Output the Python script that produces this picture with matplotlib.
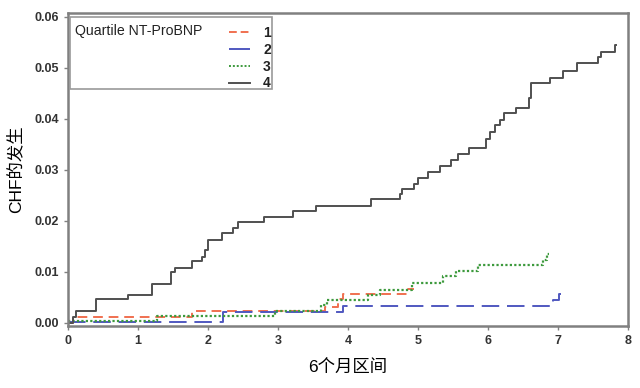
import matplotlib.pyplot as plt
from matplotlib.lines import Line2D
from matplotlib.patches import Rectangle

plt.rcParams['font.family'] = ['Liberation Sans', 'Noto Sans CJK SC', 'DejaVu Sans']

# step curves: (time, cumulative incidence) after each event
q1_t = [0.0, 0.07, 1.78, 3.67, 3.86, 3.93, 4.84, 4.95]
q1_v = [0.0, 0.0011, 0.0024, 0.0032, 0.0046, 0.0056, 0.0066, 0.0066]

q2_t = [0.0, 2.22, 3.93, 6.93, 7.02, 7.04]
q2_v = [0.0002, 0.0022, 0.0034, 0.0045, 0.0057, 0.0057]

q3_t = [0.0, 1.27, 2.96, 3.62, 3.70, 4.29, 4.46, 4.91, 5.36, 5.55, 5.86, 6.79, 6.85, 6.87]
q3_v = [0.0003, 0.0014, 0.0024, 0.0035, 0.0045, 0.0055, 0.0065, 0.0078, 0.0091, 0.0101, 0.0114, 0.0124, 0.0136, 0.0136]

q4_t = [0.0, 0.07, 0.12, 0.40, 0.86, 1.20, 1.47, 1.53, 1.78, 1.91, 1.96, 2.00, 2.20, 2.36,
        2.43, 2.80, 3.22, 3.54, 4.33, 4.74, 4.77, 4.94, 5.00, 5.15, 5.31, 5.48, 5.58, 5.73,
        5.98, 6.03, 6.10, 6.17, 6.23, 6.40, 6.59, 6.62, 6.89, 7.07, 7.27, 7.58, 7.62, 7.81, 7.83]
q4_v = [0.0, 0.0011, 0.0024, 0.0047, 0.0055, 0.0076, 0.0099, 0.0108, 0.0122, 0.0130, 0.0143,
        0.0163, 0.0176, 0.0186, 0.0197, 0.0208, 0.0219, 0.0229, 0.0243, 0.0253, 0.0262, 0.0273,
        0.0284, 0.0295, 0.0308, 0.0320, 0.0331, 0.0342, 0.0360, 0.0375, 0.0388, 0.0398, 0.0412,
        0.0421, 0.0440, 0.0470, 0.0480, 0.0493, 0.0509, 0.0521, 0.0532, 0.0545, 0.0545]

labels = ['1', '2', '3', '4']
legend_title = 'Quartile NT-ProBNP'

fig = plt.figure(figsize=(6.4, 3.88), dpi=100)
ax = fig.add_axes([0.106, 0.160, 0.875, 0.807])

l1, = ax.step(q1_t, q1_v, where='post', color='#f07050', lw=1.4, dashes=(5, 3))
l2, = ax.step(q2_t, q2_v, where='post', color='#5058c0', lw=1.4, dashes=(9, 4))
l3, = ax.step(q3_t, q3_v, where='post', color='#3d9a3d', lw=1.6, dashes=(1, 1))
l4, = ax.step(q4_t, q4_v, where='post', color='#505050', lw=1.4)

ax.set_xlim(0, 8)
ax.set_ylim(-0.0006, 0.0608)
ax.set_xticks(range(9))
ax.set_yticks([0.0, 0.01, 0.02, 0.03, 0.04, 0.05, 0.06])
ax.set_yticklabels(['0.00', '0.01', '0.02', '0.03', '0.04', '0.05', '0.06'])
ax.tick_params(labelsize=9, length=3, color='#808080', width=1)
for lab in ax.get_xticklabels() + ax.get_yticklabels():
    lab.set_fontweight('bold')
    lab.set_color('#333333')

for s in ax.spines.values():
    s.set_color('#808080')
    s.set_linewidth(1.8)

ax.set_xlabel('6个月区间', fontsize=12.5, labelpad=9)
ax.set_ylabel('CHF的发生', fontsize=12.5, labelpad=8)

# legend box with title on the left and entries on the right
ax.add_patch(Rectangle((0.004, 0.757), 0.36, 0.23, transform=ax.transAxes,
                       fill=False, edgecolor='#999999', lw=1.2, zorder=5))
ax.text(0.013, 0.942, legend_title, transform=ax.transAxes, fontsize=10.2,
        va='center', ha='left', color='#222222', zorder=6)
handles = [Line2D([], [], color=l.get_color(), lw=1.4) for l in (l1, l2, l3, l4)]
handles[0].set_dashes((4, 2))
handles[1].set_dashes((12, 2))
handles[2].set_dashes((1, 1))
leg = ax.legend(handles, labels, loc='upper left', bbox_to_anchor=(0.268, 0.993),
                frameon=False, fontsize=10, handlelength=1.5, handletextpad=0.95,
                labelspacing=0.2, borderpad=0.3)
for t in leg.get_texts():
    t.set_fontweight('bold')
    t.set_color('#222222')

fig.savefig('out.png', dpi=100)
